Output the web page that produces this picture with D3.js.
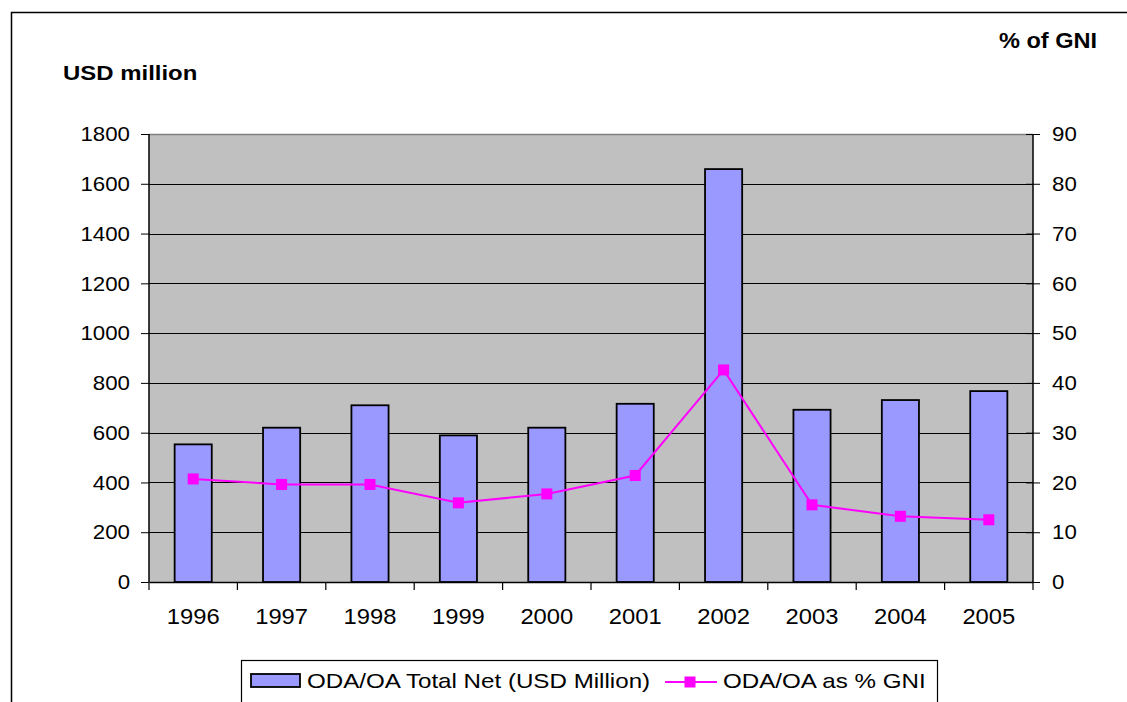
<!DOCTYPE html>
<html>
<head>
<meta charset="utf-8">
<script src="https://cdn.jsdelivr.net/npm/d3@7"></script>
<style>
  html, body { margin: 0; padding: 0; background: #fff; }
  svg { display: block; font-family: "Liberation Sans", Arial, sans-serif; }
</style>
</head>
<body>
<svg id="chart" width="1127" height="702"></svg>
<script>
// ---- data ----
const years = ["1996","1997","1998","1999","2000","2001","2002","2003","2004","2005"];
const odaTotal = [553, 620, 710, 589, 620, 716, 1659, 692, 731, 767];
const odaPctGni = [20.7, 19.6, 19.6, 15.9, 17.7, 21.4, 42.6, 15.5, 13.2, 12.5];
const leftTicks = [0, 200, 400, 600, 800, 1000, 1200, 1400, 1600, 1800];
const rightTicks = [0, 10, 20, 30, 40, 50, 60, 70, 80, 90];
const seriesNames = ["ODA/OA Total Net (USD Million)", "ODA/OA as % GNI"];
const leftTitle = "USD million";
const rightTitle = "% of GNI";

// ---- layout ----
const svg = d3.select("#chart");
const P = { left: 149, right: 1033, top: 134, bottom: 582 };
const STRETCH = 1.06;
const FS = 21;
const FONT = "'Liberation Sans', Arial, sans-serif";

function stretch(sel, k) {
  sel.each(function () {
    const L = this.getComputedTextLength();
    d3.select(this).attr("textLength", L * (k || STRETCH)).attr("lengthAdjust", "spacingAndGlyphs");
  });
}

// outer border
svg.append("rect")
  .attr("x", 11.5).attr("y", 12.5)
  .attr("width", 1130).attr("height", 710)
  .attr("fill", "#fff").attr("stroke", "#000").attr("stroke-width", 1.5);

const x = d3.scaleBand().domain(years).range([P.left, P.right])
  .paddingInner(0.58).paddingOuter(0.29);
const yL = d3.scaleLinear().domain([0, 1800]).range([P.bottom, P.top]);
const yR = d3.scaleLinear().domain([0, 90]).range([P.bottom, P.top]);

// plot area
svg.append("rect")
  .attr("x", P.left).attr("y", P.top)
  .attr("width", P.right - P.left).attr("height", P.bottom - P.top)
  .attr("fill", "#C0C0C0");

// gridlines
svg.append("g").selectAll("line").data(leftTicks.filter(d => d > 0)).join("line")
  .attr("x1", P.left).attr("x2", P.right)
  .attr("y1", d => Math.round(yL(d)) + 0.5).attr("y2", d => Math.round(yL(d)) + 0.5)
  .attr("stroke", d => d === 1800 ? "#808080" : "#000").attr("stroke-width", d => d === 1800 ? 1.5 : 1);

// left axis
const gL = svg.append("g").attr("transform", `translate(${P.left},0)`)
  .call(d3.axisLeft(yL).tickValues(leftTicks).tickFormat(d3.format("d")).tickSize(8).tickPadding(11));
gL.select(".domain").attr("stroke", "#000").attr("stroke-width", 1.5).attr("d", `M0,${P.top}V${P.bottom}`);
gL.selectAll(".tick line").attr("stroke", "#000");
gL.selectAll(".tick text").attr("font-size", FS).attr("fill", "#000")
  .attr("font-family", FONT).call(stretch);

// right axis
const gR = svg.append("g").attr("transform", `translate(${P.right},0)`)
  .call(d3.axisRight(yR).tickValues(rightTicks).tickFormat(d3.format("d")).tickSize(7).tickPadding(12));
gR.select(".domain").attr("stroke", "#000").attr("stroke-width", 1.5).attr("d", `M0,${P.top}V${P.bottom}`);
gR.selectAll(".tick line").attr("stroke", "#000").attr("x1", -7);
gR.selectAll(".tick text").attr("font-size", FS).attr("fill", "#000")
  .attr("font-family", FONT).call(stretch);

// bottom axis
const gB = svg.append("g").attr("transform", `translate(0,${P.bottom})`)
  .call(d3.axisBottom(x).tickSize(0).tickPadding(26));
gB.select(".domain").attr("stroke", "#000").attr("stroke-width", 1.5);
gB.selectAll(".tick text").attr("font-size", FS + 1).attr("fill", "#000")
  .attr("font-family", FONT).call(stretch, 1.08);
// category boundary ticks
const bounds = d3.range(years.length + 1).map(i => P.left + i * x.step());
gB.append("g").selectAll("line").data(bounds).join("line")
  .attr("x1", d => d).attr("x2", d => d).attr("y1", 0).attr("y2", 8)
  .attr("stroke", "#000").attr("stroke-width", 1.2);

// bars
svg.append("g").selectAll("rect").data(years).join("rect")
  .attr("x", d => x(d)).attr("width", x.bandwidth())
  .attr("y", (d, i) => yL(odaTotal[i]))
  .attr("height", (d, i) => yL(0) - yL(odaTotal[i]))
  .attr("fill", "#9999FF").attr("stroke", "#000").attr("stroke-width", 1.8);

// line
const cx = d => x(d) + x.bandwidth() / 2;
svg.append("path").datum(years)
  .attr("d", d3.line().x(d => cx(d)).y((d, i) => yR(odaPctGni[i])))
  .attr("fill", "none").attr("stroke", "#FF00FF").attr("stroke-width", 2);
const M = 11;
svg.append("g").selectAll("rect").data(years).join("rect")
  .attr("x", d => cx(d) - M / 2).attr("y", (d, i) => yR(odaPctGni[i]) - M / 2)
  .attr("width", M).attr("height", M).attr("fill", "#FF00FF");

// axis titles
svg.append("text").attr("x", 63).attr("y", 80).attr("font-family", FONT)
  .attr("font-size", 21).attr("font-weight", "bold").text(leftTitle).call(stretch, 1.14);
svg.append("text").attr("x", 999).attr("y", 48).attr("font-family", FONT)
  .attr("font-size", 22).attr("font-weight", "bold").text(rightTitle).call(stretch, 1.07);

// legend
const lg = svg.append("g");
lg.append("rect").attr("x", 241.5).attr("y", 660.5).attr("width", 696).attr("height", 60)
  .attr("fill", "#fff").attr("stroke", "#000").attr("stroke-width", 1.2);
lg.append("rect").attr("x", 251).attr("y", 674).attr("width", 49).attr("height", 13)
  .attr("fill", "#9999FF").attr("stroke", "#000").attr("stroke-width", 1.8);
lg.append("text").attr("x", 307).attr("y", 688).attr("font-size", FS).attr("font-family", FONT)
  .text(seriesNames[0]).call(stretch, 1.15);
lg.append("line").attr("x1", 665).attr("x2", 717).attr("y1", 682).attr("y2", 682)
  .attr("stroke", "#FF00FF").attr("stroke-width", 2);
lg.append("rect").attr("x", 690 - M / 2).attr("y", 682 - M / 2).attr("width", M).attr("height", M)
  .attr("fill", "#FF00FF");
lg.append("text").attr("x", 723).attr("y", 688).attr("font-size", FS).attr("font-family", FONT)
  .text(seriesNames[1]).call(stretch, 1.15);
</script>
</body>
</html>
